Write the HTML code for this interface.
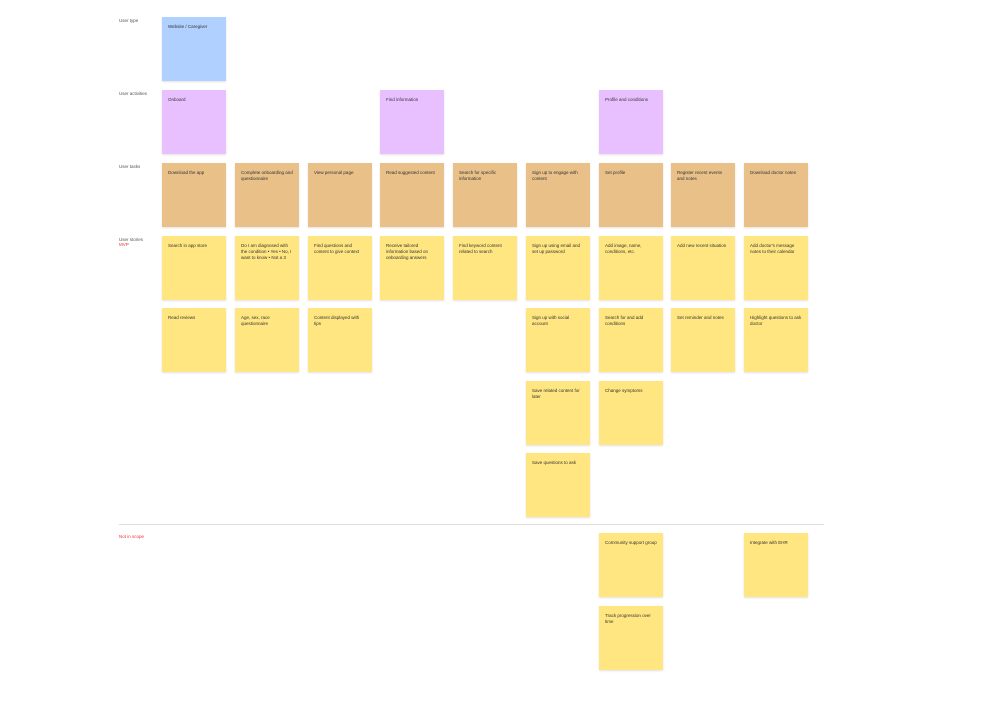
<!DOCTYPE html>
<html><head><meta charset="utf-8"><style>
body{margin:0;width:1003px;height:701px;background:#fff;position:relative;overflow:hidden;font-family:"Liberation Sans",sans-serif;}
.n{position:absolute;width:64px;height:64px;box-sizing:border-box;padding:7px 6px;font-size:4.5px;line-height:6px;color:#333;box-shadow:0 1px 2px rgba(0,0,0,.12);}
.b{background:#b0d0ff}.p{background:#e8c0ff}.t{background:#e8c088}.y{background:#ffe680}
.l{position:absolute;left:119px;font-size:4.5px;color:#555}
</style></head><body>
<div class="l" style="top:18px">User type</div>
<div class="l" style="top:91px">User activities</div>
<div class="l" style="top:164px">User tasks</div>
<div class="l" style="top:237px">User stories<br><span style="color:#e33">MVP</span></div>
<div class="l" style="top:534px;color:#e33">Not in scope</div>
<div style="position:absolute;left:119px;top:524px;width:705px;height:1px;background:#ddd"></div>
<div id="board"></div>
<script>
const cols=[162,235,308,380,453,526,599,671,744];
const rows=[17,90,163,236,308,381,453,533,606];
const notes=[
[0,0,'b','Website / Caregiver'],
[1,0,'p','Onboard'],[1,3,'p','Find information'],[1,6,'p','Profile and conditions'],
[2,0,'t','Download the app'],[2,1,'t','Complete onboarding and questionnaire'],[2,2,'t','View personal page'],[2,3,'t','Read suggested content'],[2,4,'t','Search for specific information'],[2,5,'t','Sign up to engage with content'],[2,6,'t','Set profile'],[2,7,'t','Register recent events and notes'],[2,8,'t','Download doctor notes'],
[3,0,'y','Search in app store'],[3,1,'y','Do I am diagnosed with the condition • Yes • No, I want to know • Not a 3'],[3,2,'y','Find questions and content to give context'],[3,3,'y','Receive tailored information based on onboarding answers'],[3,4,'y','Find keyword content related to search'],[3,5,'y','Sign up using email and set up password'],[3,6,'y','Add image, name, conditions, etc.'],[3,7,'y','Add new recent situation'],[3,8,'y','Add doctor\'s message notes to their calendar'],
[4,0,'y','Read reviews'],[4,1,'y','Age, sex, race questionnaire'],[4,2,'y','Content displayed with tips'],[4,5,'y','Sign up with social account'],[4,6,'y','Search for and add conditions'],[4,7,'y','Set reminder and notes'],[4,8,'y','Highlight questions to ask doctor'],
[5,5,'y','Save related content for later'],[5,6,'y','Change symptoms'],
[6,5,'y','Save questions to ask'],
[7,6,'y','Community support group'],[7,8,'y','Integrate with EHR'],
[8,6,'y','Track progression'+' over time']];
const board=document.getElementById('board');
notes.forEach(([r,c,k,txt])=>{
 const d=document.createElement('div');
 d.className='n '+k;
 d.style.left=cols[c]+'px';d.style.top=rows[r]+'px';
 d.textContent=txt;
 
 
 board.appendChild(d);
});
</script>
</body></html>
